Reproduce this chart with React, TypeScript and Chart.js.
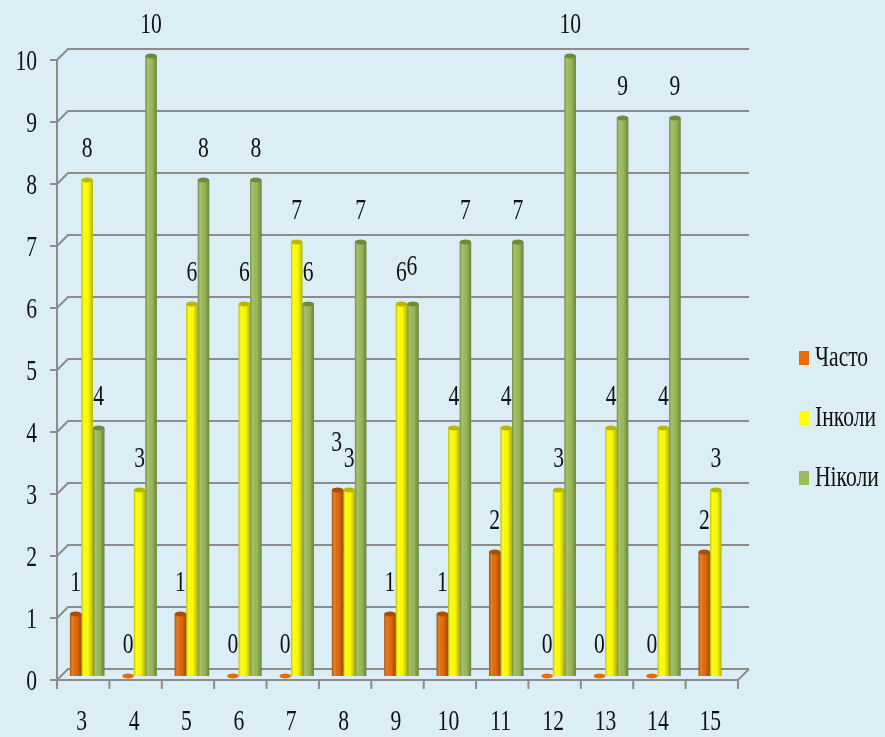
import React, { useEffect, useRef } from "react";
import { Chart, registerables } from "chart.js";

Chart.register(...registerables);

const categories = ["3", "4", "5", "6", "7", "8", "9", "10", "11", "12", "13", "14", "15"];
const often = [1, 0, 1, 0, 0, 3, 1, 1, 2, 0, 0, 0, 2];
const sometimes = [8, 3, 6, 6, 7, 3, 6, 4, 4, 3, 4, 4, 3];
const never = [4, 10, 8, 8, 6, 7, 6, 7, 7, 10, 9, 9, null];
const seriesNames = ["Часто", "Інколи", "Ніколи"];
const seriesColors = ["#E46C0A", "#FFFF00", "#9BBB59"];
const seriesEdges = ["#A84E06", "#B8B800", "#6F8A3A"];
const yTicks = [0, 1, 2, 3, 4, 5, 6, 7, 8, 9, 10];

// label nudges where Excel moved overlapping labels: "dataset-index" -> [dx, dy]
const labelNudges: Record<string, [number, number]> = {
  "0-5": [-1, -16],
  "2-6": [-1, -6],
};

const FONT_FAMILY = "'Liberation Serif', 'DejaVu Serif', serif";
const FONT_SIZE = 30;
const SX = 0.72;
const DX = 11;
const DY = -11;
const BAR_SHIFT_X = 4;
const BAR_SHIFT_Y = -4;

function drawText(ctx: CanvasRenderingContext2D, text: string, x: number, y: number, align: CanvasTextAlign) {
  ctx.save();
  ctx.translate(x, y);
  ctx.scale(SX, 1);
  ctx.font = `${FONT_SIZE}px ${FONT_FAMILY}`;
  ctx.textAlign = align;
  ctx.textBaseline = "middle";
  ctx.fillStyle = "#111111";
  ctx.fillText(text, 0, 0);
  ctx.restore();
}

const wallPlugin = {
  id: "wall3d",
  beforeDatasetsDraw(chart: any) {
    const { ctx, chartArea } = chart;
    const y = chart.scales.y;
    const x = chart.scales.x;
    const { left, right, bottom, top } = chartArea;
    ctx.save();
    ctx.strokeStyle = "#8C8C8C";
    ctx.lineWidth = 2;
    yTicks.forEach((v) => {
      const py = y.getPixelForValue(v);
      ctx.beginPath();
      ctx.moveTo(left, py);
      ctx.lineTo(left + DX, py + DY);
      ctx.lineTo(right + DX, py + DY);
      ctx.stroke();
      ctx.beginPath();
      ctx.moveTo(left - 7, py);
      ctx.lineTo(left, py);
      ctx.stroke();
    });
    ctx.beginPath();
    ctx.moveTo(left, top);
    ctx.lineTo(left, bottom);
    ctx.stroke();
    ctx.beginPath();
    ctx.moveTo(left, bottom);
    ctx.lineTo(right, bottom);
    ctx.lineTo(right + DX, bottom + DY);
    ctx.stroke();
    const n = categories.length;
    const w = (right - left) / n;
    for (let i = 0; i <= n; i++) {
      const px = left + i * w;
      ctx.beginPath();
      ctx.moveTo(px, bottom);
      ctx.lineTo(px, bottom + 9);
      ctx.stroke();
    }
    ctx.restore();
    // axis tick labels
    yTicks.forEach((v) => {
      drawText(ctx, String(v), 37, y.getPixelForValue(v) + 2, "right");
    });
    categories.forEach((c, i) => {
      drawText(ctx, c, x.getPixelForValue(i) - 1.5, 722, "center");
    });
    ctx.save();
    ctx.translate(BAR_SHIFT_X, BAR_SHIFT_Y);
  },
  afterDatasetsDraw(chart: any) {
    const { ctx } = chart;
    chart.data.datasets.forEach((ds: any, di: number) => {
      const meta = chart.getDatasetMeta(di);
      meta.data.forEach((bar: any, i: number) => {
        const v = ds.data[i];
        if (v === null || v === undefined) return;
        const { x, y, base, width } = bar.getProps(["x", "y", "base", "width"], true);
        const l = x - width / 2;
        const r = x + width / 2;
        const g = ctx.createLinearGradient(l, 0, r, 0);
        g.addColorStop(0, "rgba(0,0,0,0.28)");
        g.addColorStop(0.25, "rgba(255,255,255,0.12)");
        g.addColorStop(0.55, "rgba(0,0,0,0)");
        g.addColorStop(1, "rgba(0,0,0,0.3)");
        ctx.fillStyle = g;
        if (v > 0) ctx.fillRect(l, y, width, base - y);
        ctx.beginPath();
        ctx.ellipse(x, y, width / 2, 2.5, 0, 0, Math.PI * 2);
        ctx.fillStyle = v > 0 ? seriesEdges[di] : seriesColors[di];
        ctx.fill();
      });
    });
    ctx.restore();
    // data labels
    chart.data.datasets.forEach((ds: any, di: number) => {
      const meta = chart.getDatasetMeta(di);
      meta.data.forEach((bar: any, i: number) => {
        const v = ds.data[i];
        if (v === null || v === undefined) return;
        const { x, y } = bar.getProps(["x", "y"], true);
        const nudge = labelNudges[`${di}-${i}`] || [0, 0];
        drawText(ctx, String(v), x + BAR_SHIFT_X + nudge[0], y + BAR_SHIFT_Y - 31 + nudge[1], "center");
      });
    });
    // legend
    const ly = [358, 418, 478];
    seriesNames.forEach((name, k) => {
      ctx.save();
      ctx.fillStyle = seriesColors[k];
      ctx.fillRect(799, ly[k] - 7, 10, 14);
      ctx.restore();
      drawText(ctx, name, 815, ly[k], "left");
    });
  },
};

export default function App() {
  const ref = useRef<HTMLCanvasElement | null>(null);
  useEffect(() => {
    document.body.style.margin = "0";
    const canvas = ref.current!;
    const chart = new Chart(canvas, {
      type: "bar",
      data: {
        labels: categories,
        datasets: [often, sometimes, never].map((d, k) => ({
          label: seriesNames[k],
          data: d,
          backgroundColor: seriesColors[k],
          borderColor: seriesEdges[k],
          borderWidth: 0,
          barPercentage: 1,
          categoryPercentage: 0.66,
        })),
      },
      options: {
        animation: false,
        responsive: false,
        maintainAspectRatio: false,
        layout: { padding: { top: 60, right: 147, bottom: 0, left: 0 } },
        plugins: { legend: { display: false }, tooltip: { enabled: false } },
        scales: {
          x: {
            grid: { display: false, drawTicks: false },
            border: { display: false },
            ticks: { display: false },
            afterFit: (s: any) => {
              s.height = 57;
            },
          },
          y: {
            min: 0,
            max: 10,
            grid: { display: false, drawTicks: false },
            border: { display: false },
            ticks: { display: false, stepSize: 1 },
            afterFit: (s: any) => {
              s.width = 57;
            },
          },
        },
      },
      plugins: [wallPlugin],
    });
    return () => chart.destroy();
  }, []);
  return (
    <div style={{ width: 885, height: 737, background: "#DCEEF5" }}>
      <canvas ref={ref} width={885} height={737} style={{ display: "block" }} />
    </div>
  );
}
